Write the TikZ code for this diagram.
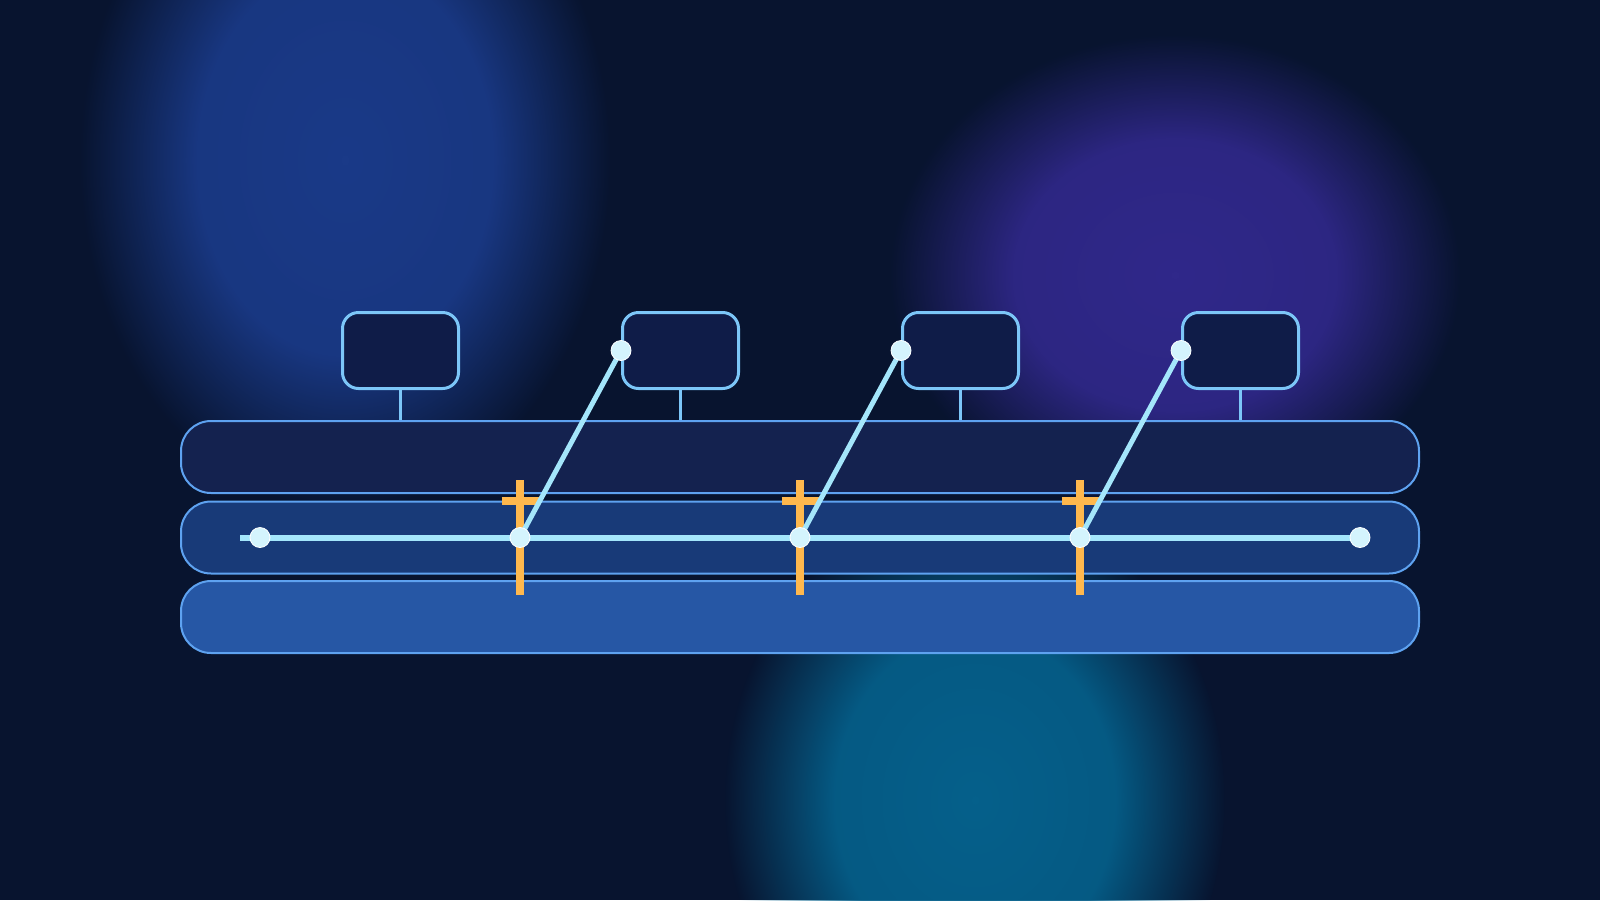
\documentclass[tikz,border=0pt]{standalone}
\usetikzlibrary{fadings}

\definecolor{bg}{HTML}{08142F}
\definecolor{glowblue}{HTML}{1A3A88}
\definecolor{glowpurple}{HTML}{30288A}
\definecolor{glowteal}{HTML}{05608B}
\definecolor{barline}{HTML}{5EA2F0}
\definecolor{barA}{HTML}{14224F}
\definecolor{barB}{HTML}{183A78}
\definecolor{barC}{HTML}{2657A5}
\definecolor{cardline}{HTML}{7CC6F8}
\definecolor{cardfill}{HTML}{0F1C48}
\definecolor{wire}{HTML}{A4E6FB}
\definecolor{dotfill}{HTML}{D4F4FD}
\definecolor{amber}{HTML}{FFB84D}

\pgfdeclareradialshading{glowshade}{\pgfpointorigin}{color(0bp)=(pgftransparent!0); color(14bp)=(pgftransparent!8); color(25bp)=(pgftransparent!100); color(50bp)=(pgftransparent!100)}
\pgfdeclarefading{glow}{\pgfuseshading{glowshade}}

\begin{document}
\begin{tikzpicture}[x=1pt,y=-1pt]
    \tikzstyle{layer}=[draw=barline, line width=2pt, rounded corners=30pt, minimum width=1238pt, minimum height=72pt]
    \tikzstyle{card}=[draw=cardline, fill=cardfill, line width=3pt, rounded corners=16pt, minimum width=116pt, minimum height=76pt]
    \tikzstyle{stem}=[draw=cardline, line width=3pt]
    \tikzstyle{dot}=[circle, fill=dotfill, draw=white, line width=0.8pt, minimum size=20pt, inner sep=0pt]
    \tikzstyle{e}=[draw=wire, line width=6pt]
    \tikzstyle{link}=[draw=wire, line width=5pt]
    \tikzstyle{cross}=[draw=amber, line width=8pt]

    \def\dx{280}

    % backdrop
    \clip (0,0) rectangle (1600,900);
    \fill[bg] (0,0) rectangle (1600,900);
    \fill[glowblue, path fading=glow] (345,160) ellipse (265 and 350);
    \fill[glowteal, path fading=glow] (975,800) ellipse (250 and 300);
    \fill[glowpurple, path fading=glow] (1175,275) ellipse (285 and 240);

    % stack
    \node[layer, fill=barA] (layer1) at (800,457) {};
    \node[layer, fill=barB] (layer2) at (800,537.5) {};
    \node[layer, fill=barC] (layer3) at (800,617) {};

    \foreach \i in {1,...,4}
        \node[card] (card\i) at ({400.5+(\i-1)*\dx},350.5) {};
    \foreach \i in {1,...,4}
        \draw[stem] (card\i.south) -- (card\i.south |- layer1.north);

    \coordinate (tail) at (240,537.5);
    \coordinate (j0) at (260,537.5);
    \foreach \i in {1,2,3}
        \coordinate (j\i) at ({520+(\i-1)*\dx},537.5);
    \coordinate (j4) at (1360,537.5);

    \foreach \i in {1,2,3} {
        \draw[cross] ([yshift=57.5pt]j\i) -- ([yshift=-57.5pt]j\i);
        \draw[cross] ([xshift=-18.5pt,yshift=36.5pt]j\i) -- ([xshift=18.5pt,yshift=36.5pt]j\i);
    }

    \draw[e] (tail) -- (j0) -- (j1) -- (j2) -- (j3) -- (j4);
    \draw[link] (j1) -- (card2.west);
    \draw[link] (j2) -- (card3.west);
    \draw[link] (j3) -- (card4.west);

    \foreach \i in {0,...,4}
        \node[dot] (d\i) at (j\i) {};
    \foreach \i in {2,3,4}
        \node[dot] (p\i) at (card\i.west) {};

\end{tikzpicture}
\end{document}
